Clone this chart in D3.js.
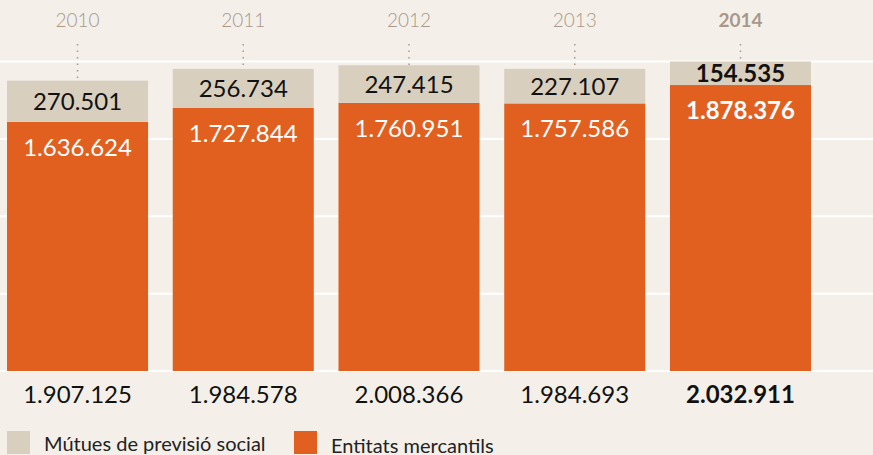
<!DOCTYPE html>
<html>
<head>
<meta charset="utf-8">
<script src="https://cdn.jsdelivr.net/npm/d3@7"></script>
<style>
  html, body { margin: 0; padding: 0; background: #f4f0e9; }
  svg { display: block; }
</style>
</head>
<body>
<div id="chart"></div>
<script>
const years = ["2010", "2011", "2012", "2013", "2014"];
const mutues = [270501, 256734, 247415, 227107, 154535];
const mercantils = [1636624, 1727844, 1760951, 1757586, 1878376];
const totals = [1907125, 1984578, 2008366, 1984693, 2032911];
const highlightYear = "2014";
const legendLabels = ["Mútues de previsió social", "Entitats mercantils"];

const W = 873, H = 455;
const colors = { bg: "#f4f0e9", grey: "#d9cfbe", orange: "#e16020", year: "#a8988b", grid: "#ffffff" };
const fontFam = "Lato, 'Open Sans', sans-serif";
const fmt = v => d3.format(",")(v).replace(/,/g, ".");

const svg = d3.select("#chart").append("svg").attr("width", W).attr("height", H)
  .style("background", colors.bg);

const x = d3.scaleBand().domain(years).range([7, 811]).paddingInner(0.149).paddingOuter(0);
const maxTotal = d3.max(totals);
const y = d3.scaleLinear().domain([0, maxTotal]).range([371, 61.5]);

// grid lines at quarters of the maximum
const gridVals = [0, 1, 2, 3, 4].map(i => maxTotal * i / 4);
svg.append("g").selectAll("line").data(gridVals).join("line")
  .attr("x1", 0).attr("x2", W)
  .attr("y1", d => y(d)).attr("y2", d => y(d))
  .attr("stroke", colors.grid).attr("stroke-width", 2);

const data = years.map((yr, i) => ({ yr, m: mutues[i], e: mercantils[i], t: totals[i], hi: yr === highlightYear }));

// dotted leaders
svg.append("g").selectAll("line").data(data).join("line")
  .attr("x1", d => x(d.yr) + x.bandwidth() / 2).attr("x2", d => x(d.yr) + x.bandwidth() / 2)
  .attr("y1", 44).attr("y2", d => y(d.t))
  .attr("stroke", colors.year).attr("stroke-width", 1.5).attr("stroke-dasharray", "1.5,5");

// orange segments
svg.append("g").selectAll("rect").data(data).join("rect")
  .attr("x", d => x(d.yr)).attr("width", x.bandwidth())
  .attr("y", d => y(d.e)).attr("height", d => y(0) - y(d.e))
  .attr("fill", colors.orange);

// grey segments
svg.append("g").selectAll("rect").data(data).join("rect")
  .attr("x", d => x(d.yr)).attr("width", x.bandwidth())
  .attr("y", d => y(d.e + d.m)).attr("height", d => y(d.e) - y(d.e + d.m))
  .attr("fill", colors.grey);

// year labels
svg.append("g").selectAll("text").data(data).join("text")
  .attr("x", d => x(d.yr) + x.bandwidth() / 2).attr("y", 27)
  .attr("text-anchor", "middle").attr("fill", colors.year)
  .attr("font-family", fontFam).attr("font-size", 19)
  .attr("font-weight", d => d.hi ? 700 : 300)
  .text(d => d.yr);

// grey labels
svg.append("g").selectAll("text").data(data).join("text")
  .attr("x", d => x(d.yr) + x.bandwidth() / 2)
  .attr("y", d => (y(d.e) + y(d.e + d.m)) / 2 + 9)
  .attr("text-anchor", "middle").attr("fill", "#111")
  .attr("font-family", fontFam).attr("font-size", 24)
  .attr("font-weight", d => d.hi ? 700 : 400)
  .text(d => fmt(d.m));

// orange labels
svg.append("g").selectAll("text").data(data).join("text")
  .attr("x", d => x(d.yr) + x.bandwidth() / 2)
  .attr("y", d => y(d.e) + 34)
  .attr("text-anchor", "middle").attr("fill", "#fff")
  .attr("font-family", fontFam).attr("font-size", 24)
  .attr("font-weight", d => d.hi ? 700 : 400)
  .text(d => fmt(d.e));

// totals
svg.append("g").selectAll("text").data(data).join("text")
  .attr("x", d => x(d.yr) + x.bandwidth() / 2).attr("y", 403)
  .attr("text-anchor", "middle").attr("fill", "#111")
  .attr("font-family", fontFam).attr("font-size", 24)
  .attr("font-weight", d => d.hi ? 700 : 400)
  .text(d => fmt(d.t));

// legend
const legend = [
  { label: legendLabels[0], color: colors.grey, x: 7, y: 431, ty: 20 },
  { label: legendLabels[1], color: colors.orange, x: 294, y: 431, ty: 22 }
];
const lg = svg.append("g").selectAll("g").data(legend).join("g")
  .attr("transform", d => `translate(${d.x},${d.y})`);
lg.append("rect").attr("width", 23).attr("height", 23).attr("fill", d => d.color);
lg.append("text").attr("x", 37).attr("y", d => d.ty)
  .attr("fill", "#222").attr("font-family", fontFam).attr("font-size", 20)
  .text(d => d.label);
</script>
</body>
</html>
